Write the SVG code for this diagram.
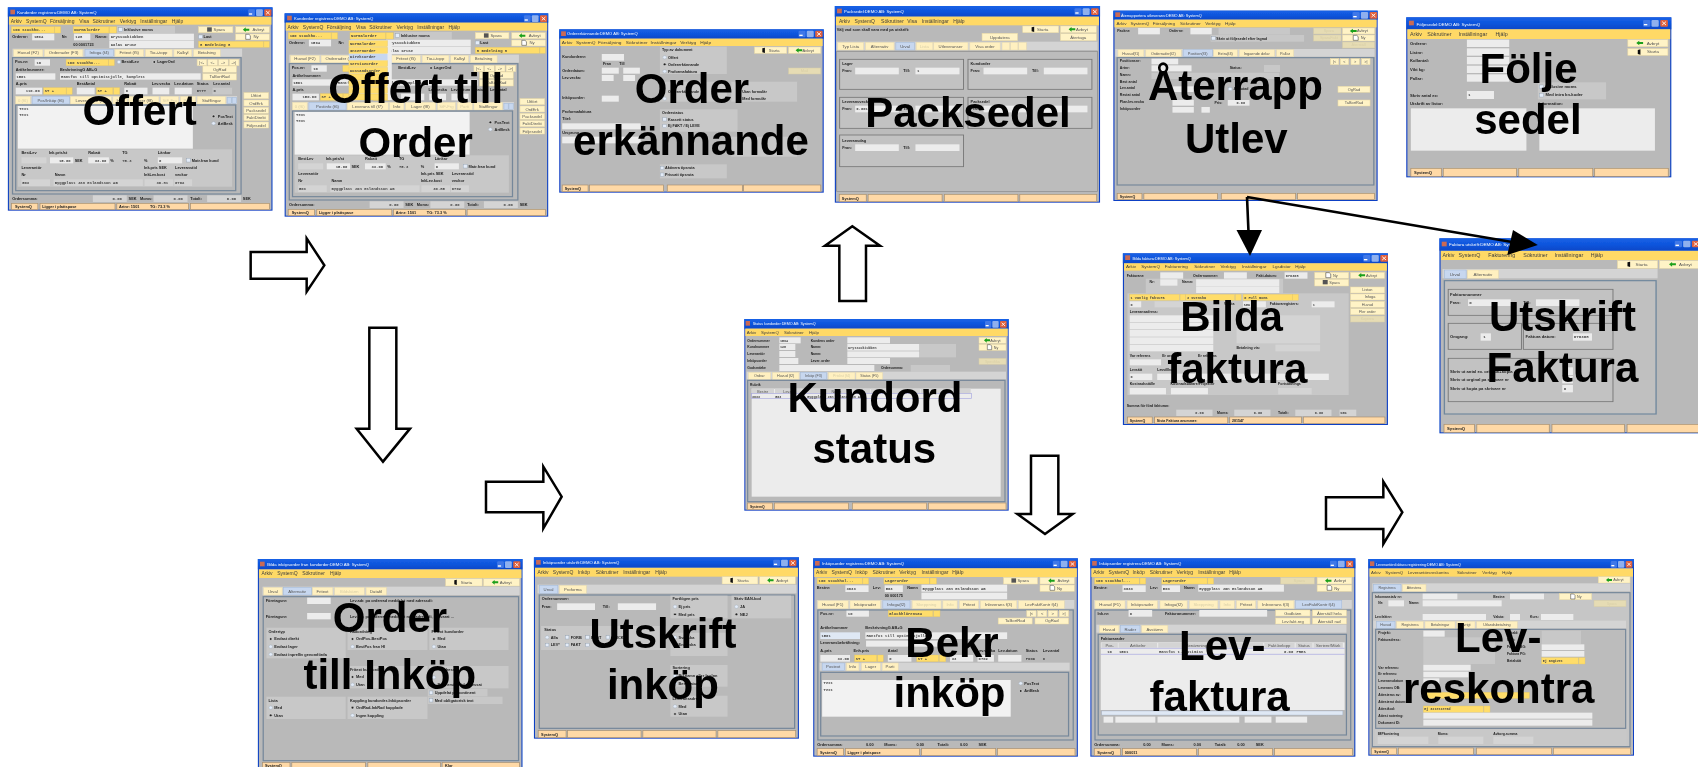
<svg xmlns="http://www.w3.org/2000/svg" width="1698" height="767" viewBox="0 0 1698 767">
<defs>
<linearGradient id="tg" x1="0" y1="0" x2="0" y2="1"><stop offset="0" stop-color="#1a62e6"/><stop offset=".5" stop-color="#0d55dd"/><stop offset="1" stop-color="#0a48c8"/></linearGradient>
<filter id="bl"><feGaussianBlur stdDeviation=".42"/></filter>
<g id="c"><rect width="19" height="20" rx="3" fill="#3f78e8"/><rect x="2" y="12" width="9" height="4" fill="#fff"/><rect x="22" width="19" height="20" rx="3" fill="#8fb0ee"/><rect x="45" width="20" height="20" rx="3" fill="#e0613c"/><path d="M50 5l10 10M60 5l-10 10" stroke="#fff" stroke-width="2.5"/></g>
<rect id="ic" width="13" height="14" fill="#c96a55"/>
<path id="gr" d="M0 7l8-7v4h10v6H8v4z" fill="#1aa01a"/>
<path id="dr" d="M0 2l7-2v16l-7-2z" fill="#111"/>
<path id="pg" d="M0 0h9l4 4v11H0z" fill="#fff" stroke="#333" stroke-width="1.5"/>
<rect id="dk" width="13" height="13" fill="#555"/>
</defs>
<style>
text{font-family:"Liberation Sans",Arial,sans-serif}
.nd{filter:url(#bl)}
.fr{fill:#0b3fc4}.bg{fill:#b9b9b9}.tb{fill:url(#tg)}.mb{fill:#ffd966}
.t{fill:#fff;font-size:.85em}
.m{fill:#3c3c3c}
.l{font-weight:700;font-size:.78em;fill:#222}
.v{font-family:"Liberation Mono",monospace;font-weight:700;font-size:.78em;fill:#444}
.b{text-anchor:middle;font-size:.85em;fill:#555}
.d{text-anchor:middle;font-size:.85em;fill:#d8cfa8}
.i{fill:#ececec}.p{fill:#c8c8c8}.q{fill:#d4d4d4}.w{fill:#f2f2f2}
.btn{fill:#fff3c6;stroke:#ead9a4;stroke-width:1.5}
.off{fill:#e6dcb4;stroke:#d5cca8;stroke-width:1.5}
.y{fill:#ffdd6a;stroke:#e6c860;stroke-width:1}
.s{fill:#ffd9a6;stroke:#a89070;stroke-width:2}
.tab{fill:#fff0c0;stroke:#e4d8b0;stroke-width:1.5}
.act{fill:#c7d7ef;stroke:#a0b8d8;stroke-width:1.5}
.box{fill:none;stroke:#75879a;stroke-width:3.5}
.gb{fill:#c2c2c2;stroke:#777;stroke-width:2.5}
.r{fill:#e4ecf8;stroke:#9ab;stroke-width:1}
.rs{fill:#222;stroke:#ddd;stroke-width:2}
.c{fill:#e4ecf8;stroke:#89a;stroke-width:1}
.big{font-size:42px;font-weight:700;text-anchor:middle;fill:#000}
.ar{fill:#fff;stroke:#000;stroke-width:7.5;stroke-linejoin:miter}
</style>
<rect width="1698" height="767" fill="#fff"/>

<g id="offert" class="nd"><g transform="scale(.35714,.33333)" font-size="14">
<rect class="fr" x="22" y="22" width="741" height="610"/><rect class="bg" x="25" y="28" width="735" height="601"/><rect class="tb" x="22" y="22" width="741" height="28"/><use href="#ic" x="29" y="29"/><text class="t" x="48" y="42">Kunderder registrera:DEMO AB: SystemQ</text><use href="#c" x="695" y="28"/>
<rect class="mb" x="25" y="50" width="735" height="24"/>
<text class="m" x="30" y="68">Arkiv</text><text class="m" x="73" y="68">SystemQ</text><text class="m" x="140" y="68">Försäljning</text><text class="m" x="222" y="68">Visa</text><text class="m" x="259" y="68">Sökrutiner</text><text class="m" x="335" y="68">Verktyg</text><text class="m" x="393" y="68">Inställningar</text><text class="m" x="481" y="68">Hjälp</text>
<rect class="y" x="32" y="80" width="120" height="19"/><rect class="y" x="153" y="80" width="17" height="19"/><text class="v" x="36" y="93">100  Stockho...</text>
<rect class="y" x="205" y="80" width="100" height="19"/><rect class="y" x="306" y="80" width="20" height="19"/><text class="v" x="208" y="93">Normalorder</text>
<rect class="p" x="328" y="78" width="162" height="22"/><rect class="c" x="332" y="83" width="11" height="11"/><text class="l" x="347" y="93">Inklusive moms</text>
<rect class="btn" x="556" y="80" width="96" height="18"/><use href="#dk" x="580" y="82"/><text class="b" x="614" y="93">Spara</text><rect class="btn" x="660" y="80" width="94" height="18"/><use href="#gr" x="680" y="82"/><text class="b" x="724" y="93">Avbryt</text><rect class="btn" x="660" y="102" width="94" height="18"/><use href="#pg" x="688" y="103"/><text class="b" x="717" y="115">Ny</text>
<text class="l" x="34" y="115">Ordernr:</text><rect class="i" x="90" y="101" width="62" height="20"/><text class="v" x="95" y="115">1594</text><text class="l" x="173" y="115">Nr:</text><rect class="i" x="207" y="101" width="46" height="20"/><text class="v" x="211" y="115">128</text><text class="l" x="267" y="115">Namn:</text><rect class="i" x="306" y="101" width="237" height="20"/><text class="v" x="310" y="115">Kryssockiubben</text><rect class="i" x="306" y="122" width="237" height="22"/><text class="v" x="310" y="137" fill="#9ac">Kalas Kruse</text><text class="l" x="205" y="137">00 0001723</text>
<rect class="c" x="556" y="105" width="11" height="11"/><text class="l" x="570" y="115">Låst</text><rect class="y" x="556" y="124" width="182" height="18"/><rect class="y" x="739" y="124" width="15" height="18"/><text class="v" x="560" y="137">8  Bedelning 8</text>
<rect class="q" x="35" y="146" width="643" height="24"/>
<rect class="tab" x="38" y="148" width="82" height="22"/><text class="b" x="79" y="163">Huvud (F2)</text><rect class="tab" x="124" y="148" width="108" height="22"/><text class="b" x="178" y="163">Orderrader (F3)</text><rect class="act" x="238" y="148" width="80" height="22"/><text class="b" x="278" y="163">Infoga (f4)</text><rect class="tab" x="322" y="148" width="80" height="22"/><text class="b" x="362" y="163">Fritext (f5)</text><rect class="tab" x="407" y="148" width="75" height="22"/><text class="b" x="444" y="163">Tio-i-topp</text><rect class="tab" x="487" y="148" width="50" height="22"/><text class="b" x="512" y="163">Kalkyl</text><rect class="tab" x="542" y="148" width="75" height="22"/><text class="b" x="579" y="163">Betalning</text>
<rect class="box" x="35" y="173" width="640" height="409"/>
<text class="l" x="42" y="190">Pos.nr:</text><rect class="i" x="97" y="178" width="43" height="19"/><text class="v" x="102" y="192">10</text><rect class="y" x="185" y="178" width="118" height="19"/><rect class="y" x="304" y="178" width="16" height="19"/><text class="v" x="189" y="192">100  Stockho...</text><circle class="r" cx="333" cy="186" r="5"/><text class="l" x="340" y="190">BestdLev</text><circle class="rs" cx="432" cy="186" r="4"/><text class="l" x="440" y="190">LagerOrd</text>
<rect class="btn" x="552" y="178" width="27" height="19"/><text class="b" x="565" y="192">|&lt;-</text><rect class="btn" x="582" y="178" width="27" height="19"/><text class="b" x="595" y="192">&lt;-</text><rect class="btn" x="612" y="178" width="27" height="19"/><text class="b" x="625" y="192">-&gt;</text><rect class="btn" x="642" y="178" width="27" height="19"/><text class="b" x="655" y="192">-&gt;|</text>
<text class="l" x="44" y="212">Artikelnummer:</text><text class="l" x="168" y="212">BeskrivningG AB+G</text><rect class="i" x="44" y="220" width="111" height="19"/><text class="v" x="46" y="234">1501</text><rect class="i" x="168" y="220" width="394" height="19"/><text class="v" x="171" y="234">Rantfot till optimistjolle, komplett</text>
<rect class="btn" x="568" y="198" width="94" height="19"/><text class="b" x="615" y="212">OgRad</text><rect class="btn" x="568" y="221" width="94" height="19"/><text class="b" x="615" y="235">TaBortRad</text>
<text class="l" x="44" y="254">A-pris</text><text class="l" x="215" y="254">BestAntal</text><text class="l" x="348" y="254">Rabatt</text><text class="l" x="425" y="254">Lev.vecka</text><text class="l" x="488" y="254">Lev.datum</text><text class="l" x="551" y="254">Status</text><text class="l" x="597" y="254">Lev.antal</text>
<rect class="i" x="44" y="263" width="74" height="20"/><text class="v" x="72" y="277">110.00</text><rect class="y" x="122" y="263" width="63" height="20"/><rect class="y" x="186" y="263" width="16" height="20"/><text class="v" x="125" y="277">ST +</text><rect class="i" x="215" y="263" width="50" height="20"/><rect class="y" x="270" y="263" width="46" height="20"/><rect class="y" x="318" y="263" width="17" height="20"/><text class="v" x="273" y="277">ST +</text><rect class="i" x="348" y="263" width="65" height="20"/><text class="v" x="352" y="277">0</text><rect class="i" x="427" y="263" width="47" height="20"/><rect class="i" x="489" y="263" width="48" height="20"/><text class="v" x="551" y="277">BYTT</text><rect class="p" x="595" y="263" width="55" height="20"/><text class="v" x="598" y="277">0</text>
<rect class="q" x="44" y="288" width="620" height="24"/><rect class="tab" x="44" y="289" width="41" height="23"/><text class="d" x="64" y="305">0 (f6)</text><rect class="act" x="90" y="289" width="104" height="23"/><text class="b" x="142" y="305">Pos/Inköp (f6)</text><rect class="tab" x="197" y="289" width="115" height="23"/><text class="b" x="254" y="305">Leverans till (f7)</text><rect class="tab" x="316" y="289" width="40" height="23"/><text class="b" x="336" y="305">Info</text><rect class="tab" x="360" y="289" width="85" height="23"/><text class="b" x="402" y="305">Lager (f8)</text><rect class="tab" x="450" y="289" width="50" height="23"/><text class="d" x="475" y="305">StF-Frg</text><rect class="tab" x="505" y="289" width="43" height="23"/><text class="d" x="526" y="305">Parti</text><rect class="tab" x="552" y="289" width="80" height="23"/><text class="b" x="592" y="305">Stafflingar</text><rect class="act" x="636" y="292" width="12" height="18"/><rect class="act" x="650" y="292" width="12" height="18"/>
<rect class="box" x="44" y="315" width="616" height="257"/><rect class="w" x="50" y="318" width="490" height="128"/><text class="v" x="54" y="330">Text</text><text class="v" x="54" y="348">Text</text><circle class="rs" cx="598" cy="349" r="4"/><text class="l" x="610" y="353">PosText</text><circle class="r" cx="598" cy="370" r="5"/><text class="l" x="610" y="374">ArtBesk</text>
<rect class="p" x="50" y="448" width="600" height="112"/>
<text class="l" x="60" y="463">BestLev</text><text class="l" x="137" y="463">Ink.pris/st</text><text class="l" x="247" y="463">Rabatt</text><text class="l" x="342" y="463">TG</text><text class="l" x="442" y="463">Länkar</text>
<rect class="q" x="60" y="472" width="70" height="18"/><rect class="i" x="140" y="472" width="65" height="18"/><text class="v" x="165" y="485">15.00</text><text class="l" x="209" y="485">SEK</text><rect class="i" x="247" y="472" width="58" height="18"/><text class="v" x="265" y="485">33.00</text><text class="l" x="309" y="485">%</text><text class="v" x="342" y="485">75.3</text><text class="l" x="403" y="485">%</text><rect class="i" x="442" y="472" width="68" height="18"/><text class="v" x="445" y="485">0</text><rect class="c" x="522" y="475" width="11" height="11"/><text class="l" x="537" y="485">Matr.från kund</text>
<text class="l" x="60" y="508">Leverantör</text><text class="l" x="403" y="508">Ink.pris SEK</text><text class="l" x="490" y="508">Leveranstid</text><text class="l" x="60" y="528">Nr</text><text class="l" x="153" y="528">Namn</text><text class="l" x="403" y="528">InkLev.kost</text><text class="l" x="490" y="528">veckor</text>
<rect class="q" x="60" y="538" width="80" height="20"/><text class="v" x="62" y="552">503</text><rect class="q" x="150" y="538" width="250" height="20"/><text class="v" x="153" y="552">Byggplast Jan Eslandsson AB</text><rect class="q" x="405" y="538" width="80" height="20"/><text class="v" x="438" y="552">30.81</text><rect class="q" x="488" y="538" width="50" height="20"/><text class="v" x="490" y="552">0702</text>
<rect class="btn" x="683" y="278" width="69" height="18"/><text class="b" x="717" y="292">Utfört</text><rect class="btn" x="683" y="300" width="69" height="18"/><text class="b" x="717" y="314">OrdErk</text><rect class="btn" x="683" y="322" width="69" height="18"/><text class="b" x="717" y="336">Packsedel</text><rect class="btn" x="683" y="344" width="69" height="18"/><text class="b" x="717" y="358">FaktDirekt</text><rect class="btn" x="683" y="366" width="69" height="18"/><text class="b" x="717" y="380">Följesedel</text>
<text class="l" x="34" y="600">Ordersumma:</text><rect class="q" x="260" y="586" width="95" height="20"/><text class="v" x="315" y="600">0.00</text><text class="l" x="360" y="600">SEK</text><text class="l" x="392" y="600">Moms:</text><rect class="q" x="430" y="586" width="95" height="20"/><text class="v" x="486" y="600">0.00</text><text class="l" x="533" y="600">Totalt:</text><rect class="q" x="580" y="586" width="95" height="20"/><text class="v" x="635" y="600">0.00</text><text class="l" x="680" y="600">SEK</text>
<rect class="s" x="32" y="610" width="74" height="19"/><text class="l" x="42" y="624">SystemQ</text><rect class="s" x="112" y="610" width="210" height="19"/><text class="l" x="118" y="624">Ligger i plattspåse</text><rect class="s" x="327" y="610" width="201" height="19"/><text class="l" x="333" y="624">Artnr: 1501</text><text class="l" x="420" y="624">TG: 73.3 %</text><rect class="s" x="533" y="610" width="222" height="19"/>
</g><text class="big" x="139.6" y="125">Offert</text></g>

<g id="offert-till-order" class="nd"><g transform="scale(.35714,.33333)" font-size="14"><g transform="translate(775,18)">
<rect class="fr" x="22" y="22" width="738" height="610"/><rect class="bg" x="25" y="28" width="732" height="601"/><rect class="tb" x="22" y="22" width="738" height="28"/><use href="#ic" x="29" y="29"/><text class="t" x="48" y="42">Kunderder registrera:DEMO AB: SystemQ</text><use href="#c" x="692" y="28"/>
<rect class="mb" x="25" y="50" width="732" height="24"/>
<text class="m" x="30" y="68">Arkiv</text><text class="m" x="73" y="68">SystemQ</text><text class="m" x="140" y="68">Försäljning</text><text class="m" x="222" y="68">Visa</text><text class="m" x="259" y="68">Sökrutiner</text><text class="m" x="335" y="68">Verktyg</text><text class="m" x="393" y="68">Inställningar</text><text class="m" x="481" y="68">Hjälp</text>
<rect class="y" x="32" y="80" width="120" height="19"/><rect class="y" x="153" y="80" width="17" height="19"/><text class="v" x="36" y="93">100  Stockho...</text>
<rect class="y" x="205" y="80" width="100" height="19"/><rect class="y" x="306" y="80" width="20" height="19"/><text class="v" x="208" y="93">Normalorder</text>
<rect class="p" x="328" y="78" width="162" height="22"/><rect class="c" x="332" y="83" width="11" height="11"/><text class="l" x="347" y="93">Inklusive moms</text>
<rect class="btn" x="556" y="80" width="94" height="18"/><use href="#dk" x="580" y="82"/><text class="b" x="614" y="93">Spara</text><rect class="btn" x="658" y="80" width="94" height="18"/><use href="#gr" x="678" y="82"/><text class="b" x="722" y="93">Avbryt</text><rect class="btn" x="658" y="102" width="94" height="18"/><use href="#pg" x="686" y="103"/><text class="b" x="715" y="115">Ny</text>
<text class="l" x="34" y="115">Ordernr:</text><rect class="i" x="90" y="101" width="62" height="20"/><text class="v" x="95" y="115">1594</text><text class="l" x="173" y="115">Nr:</text><rect class="i" x="207" y="101" width="46" height="20"/><text class="v" x="211" y="115">128</text><text class="l" x="267" y="115">Namn:</text><rect class="i" x="306" y="101" width="237" height="20"/><text class="v" x="310" y="115">Kryssockiubben</text><rect class="i" x="306" y="122" width="237" height="22"/><text class="v" x="310" y="137">Kalas Kruse</text>
<rect class="c" x="556" y="105" width="11" height="11"/><text class="l" x="570" y="115">Låst</text><rect class="y" x="556" y="124" width="180" height="18"/><rect class="y" x="737" y="124" width="15" height="18"/><text class="v" x="560" y="137">8  Bedelning 8</text>
<rect class="q" x="35" y="146" width="643" height="24"/>
<rect class="tab" x="38" y="148" width="82" height="22"/><text class="b" x="79" y="163">Huvud (F2)</text><rect class="tab" x="124" y="148" width="108" height="22"/><text class="b" x="178" y="163">Orderrader (F3)</text><rect class="act" x="238" y="148" width="80" height="22"/><text class="b" x="278" y="163">Infoga (f4)</text><rect class="tab" x="322" y="148" width="80" height="22"/><text class="b" x="362" y="163">Fritext (f5)</text><rect class="tab" x="407" y="148" width="75" height="22"/><text class="b" x="444" y="163">Tio-i-topp</text><rect class="tab" x="487" y="148" width="50" height="22"/><text class="b" x="512" y="163">Kalkyl</text><rect class="tab" x="542" y="148" width="75" height="22"/><text class="b" x="579" y="163">Betalning</text>
<rect class="box" x="35" y="173" width="640" height="409"/>
<text class="l" x="42" y="190">Pos.nr:</text><rect class="i" x="97" y="178" width="43" height="19"/><text class="v" x="102" y="192">10</text><rect class="y" x="185" y="178" width="118" height="19"/><text class="l" x="340" y="190">BestdLev</text><circle class="rs" cx="432" cy="186" r="4"/><text class="l" x="440" y="190">LagerOrd</text>
<rect class="btn" x="552" y="178" width="27" height="19"/><text class="b" x="565" y="192">|&lt;-</text><rect class="btn" x="582" y="178" width="27" height="19"/><text class="b" x="595" y="192">&lt;-</text><rect class="btn" x="612" y="178" width="27" height="19"/><text class="b" x="625" y="192">-&gt;</text><rect class="btn" x="642" y="178" width="27" height="19"/><text class="b" x="655" y="192">-&gt;|</text>
<text class="l" x="44" y="212">Artikelnummer:</text><rect class="i" x="44" y="220" width="111" height="19"/><text class="v" x="46" y="234">1501</text><rect class="i" x="168" y="220" width="394" height="19"/><text class="v" x="171" y="234">Rantfot till optimistjolle, komplett</text>
<rect class="btn" x="568" y="198" width="94" height="19"/><text class="b" x="615" y="212">OgRad</text><rect class="btn" x="568" y="221" width="94" height="19"/><text class="b" x="615" y="235">TaBortRad</text>
<text class="l" x="44" y="254">A-pris</text><text class="l" x="425" y="254">Lev.vecka</text><text class="l" x="488" y="254">Lev.datum</text><text class="l" x="551" y="254">Status</text><text class="l" x="597" y="254">Lev.antal</text>
<rect class="i" x="44" y="263" width="74" height="20"/><text class="v" x="72" y="277">150.00</text><rect class="y" x="122" y="263" width="63" height="20"/><rect class="y" x="186" y="263" width="16" height="20"/><text class="v" x="125" y="277">ST +</text><rect class="i" x="215" y="263" width="50" height="20"/><rect class="y" x="270" y="263" width="46" height="20"/><rect class="i" x="348" y="263" width="65" height="20"/><rect class="i" x="427" y="263" width="47" height="20"/><rect class="i" x="489" y="263" width="48" height="20"/>
<rect class="q" x="44" y="288" width="620" height="24"/><rect class="tab" x="44" y="289" width="41" height="23"/><text class="d" x="64" y="305">0 (f6)</text><rect class="act" x="90" y="289" width="104" height="23"/><text class="b" x="142" y="305">Postinfo (f6)</text><rect class="tab" x="197" y="289" width="115" height="23"/><text class="b" x="254" y="305">Leverans till (f7)</text><rect class="tab" x="316" y="289" width="40" height="23"/><text class="b" x="336" y="305">Info</text><rect class="tab" x="360" y="289" width="85" height="23"/><text class="b" x="402" y="305">Lager (f8)</text><rect class="tab" x="450" y="289" width="50" height="23"/><text class="d" x="475" y="305">StF-Frg</text><rect class="tab" x="505" y="289" width="43" height="23"/><text class="d" x="526" y="305">Parti</text><rect class="tab" x="552" y="289" width="80" height="23"/><text class="b" x="592" y="305">Stafflingar</text><rect class="act" x="636" y="292" width="12" height="18"/><rect class="act" x="650" y="292" width="12" height="18"/>
<rect class="box" x="44" y="315" width="616" height="257"/><rect class="w" x="50" y="318" width="490" height="128"/><text class="v" x="54" y="330">Text</text><text class="v" x="54" y="348">Text</text><circle class="rs" cx="598" cy="349" r="4"/><text class="l" x="610" y="353">PosText</text><circle class="r" cx="598" cy="370" r="5"/><text class="l" x="610" y="374">ArtBesk</text>
<rect class="p" x="50" y="448" width="600" height="112"/>
<text class="l" x="60" y="463">BestLev</text><text class="l" x="137" y="463">Ink.pris/st</text><text class="l" x="247" y="463">Rabatt</text><text class="l" x="342" y="463">TG</text><text class="l" x="442" y="463">Länkar</text>
<rect class="q" x="60" y="472" width="70" height="18"/><rect class="i" x="140" y="472" width="65" height="18"/><text class="v" x="165" y="485">15.00</text><text class="l" x="209" y="485">SEK</text><rect class="i" x="247" y="472" width="58" height="18"/><text class="v" x="265" y="485">33.00</text><text class="l" x="309" y="485">%</text><text class="v" x="342" y="485">75.3</text><text class="l" x="403" y="485">%</text><rect class="i" x="442" y="472" width="68" height="18"/><text class="v" x="445" y="485">0</text><rect class="c" x="522" y="475" width="11" height="11"/><text class="l" x="537" y="485">Matr.från kund</text>
<text class="l" x="60" y="508">Leverantör</text><text class="l" x="403" y="508">Ink.pris SEK</text><text class="l" x="490" y="508">Leveranstid</text><text class="l" x="60" y="528">Nr</text><text class="l" x="153" y="528">Namn</text><text class="l" x="403" y="528">InkLev.kost</text><text class="l" x="490" y="528">veckor</text>
<rect class="q" x="60" y="538" width="80" height="20"/><text class="v" x="62" y="552">503</text><rect class="q" x="150" y="538" width="250" height="20"/><text class="v" x="153" y="552">Byggplast Jan Eslandsson AB</text><rect class="q" x="405" y="538" width="80" height="20"/><text class="v" x="438" y="552">30.85</text><rect class="q" x="488" y="538" width="50" height="20"/><text class="v" x="490" y="552">0702</text>
<rect class="btn" x="681" y="278" width="69" height="18"/><text class="b" x="715" y="292">Utfört</text><rect class="btn" x="681" y="300" width="69" height="18"/><text class="b" x="715" y="314">OrdErk</text><rect class="btn" x="681" y="322" width="69" height="18"/><text class="b" x="715" y="336">Packsedel</text><rect class="btn" x="681" y="344" width="69" height="18"/><text class="b" x="715" y="358">FaktDirekt</text><rect class="btn" x="681" y="366" width="69" height="18"/><text class="b" x="715" y="380">Följesedel</text>
<text class="l" x="34" y="600">Ordersumma:</text><rect class="q" x="260" y="586" width="95" height="20"/><text class="v" x="315" y="600">0.00</text><text class="l" x="360" y="600">SEK</text><text class="l" x="392" y="600">Moms:</text><rect class="q" x="430" y="586" width="95" height="20"/><text class="v" x="486" y="600">0.00</text><text class="l" x="533" y="600">Totalt:</text><rect class="q" x="580" y="586" width="95" height="20"/><text class="v" x="635" y="600">0.00</text><text class="l" x="680" y="600">SEK</text>
<rect class="s" x="32" y="610" width="74" height="19"/><text class="l" x="42" y="624">SystemQ</text><rect class="s" x="112" y="610" width="210" height="19"/><text class="l" x="118" y="624">Ligger i plattspåse</text><rect class="s" x="327" y="610" width="201" height="19"/><text class="l" x="333" y="624">Artnr: 1501</text><text class="l" x="420" y="624">TG: 73.3 %</text><rect class="s" x="533" y="610" width="219" height="19"/>
<rect x="202" y="102" width="120" height="180" fill="#ececec"/><rect class="y" x="202" y="104" width="108" height="18"/><text class="v" x="205" y="117">Normalorder</text><rect class="y" x="202" y="124" width="108" height="18"/><text class="v" x="205" y="137">Internorder</text><rect x="202" y="144" width="108" height="18" fill="#c7d7ef"/><text class="v" x="205" y="157">Direktorder</text><rect class="y" x="202" y="164" width="108" height="18"/><text class="v" x="205" y="177">Serviceorder</text><rect class="y" x="202" y="184" width="108" height="18"/><text class="v" x="205" y="197">Kostandsorder</text><rect class="y" x="202" y="204" width="108" height="18"/><rect class="y" x="202" y="224" width="108" height="18"/><rect class="y" x="202" y="244" width="108" height="18"/><rect class="y" x="202" y="264" width="108" height="18"/>
</g></g><text class="big" x="415.7" y="102.7">Offert till</text><text class="big" x="415.6" y="156.7">Order</text></g>

<g id="order-erkannande" class="nd"><g transform="translate(550,0) scale(.3699,.33333)" font-size="13">
<rect class="fr" x="25" y="88" width="715" height="490"/><rect class="bg" x="28" y="94" width="709" height="481"/><rect class="tb" x="25" y="88" width="715" height="28"/><use href="#ic" x="30" y="94"/><text class="t" x="46" y="106">Ordererkännande:DEMO AB: SystemQ</text><use href="#c" x="672" y="92"/>
<rect class="mb" x="28" y="116" width="709" height="22"/>
<text class="m" x="32" y="132">Arkiv</text><text class="m" x="70" y="132">SystemQ</text><text class="m" x="130" y="132">Försäljning</text><text class="m" x="205" y="132">Sökrutiner</text><text class="m" x="272" y="132">Inställningar</text><text class="m" x="352" y="132">Verktyg</text><text class="m" x="406" y="132">Hjälp</text>
<text class="l" x="33" y="175">Kundordernr:</text><rect class="i" x="140" y="162" width="60" height="20"/><text class="l" x="143" y="195">Från</text><text class="l" x="187" y="195">Till</text><text class="l" x="33" y="215">Orderdatum:</text><rect class="i" x="140" y="203" width="46" height="18"/><rect class="i" x="198" y="203" width="45" height="18"/><text class="l" x="33" y="236">Lev.vecka:</text><rect class="i" x="140" y="225" width="32" height="18"/><rect class="i" x="198" y="225" width="32" height="18"/><text class="l" x="33" y="298">Inköpsorder:</text><rect class="i" x="140" y="287" width="46" height="18"/><text class="l" x="33" y="340">Proformafaktura</text><text class="l" x="33" y="361">Titel:</text><rect class="i" x="33" y="370" width="212" height="18"/><text class="l" x="33" y="402">Ursprung</text><rect class="i" x="33" y="410" width="212" height="20"/>
<rect class="p" x="297" y="140" width="181" height="82"/><text class="l" x="303" y="153">Typ av dokument</text><circle class="r" cx="310" cy="172" r="5"/><text class="l" x="319" y="176">Offert</text><circle class="rs" cx="310" cy="193" r="4"/><text class="l" x="319" y="197">Ordererkännande</text><circle class="r" cx="310" cy="214" r="5"/><text class="l" x="319" y="218">Proformafaktura</text>
<rect class="btn" x="553" y="141" width="87" height="19"/><use href="#dr" x="574" y="143"/><text class="b" x="606" y="155">Starta</text><rect class="btn" x="645" y="141" width="87" height="19"/><use href="#gr" x="664" y="144"/><text class="b" x="698" y="155">Avbryt</text><rect class="off" x="645" y="204" width="87" height="18"/><text class="d" x="688" y="217">Mail</text>
<rect class="p" x="297" y="245" width="181" height="60"/><rect class="p" x="490" y="245" width="178" height="60"/><text class="l" x="520" y="280">Utan formulär</text><text class="l" x="520" y="301">Med formulär</text><circle class="r" cx="310" cy="296" r="5"/><text class="l" x="319" y="280">Ordererkännande</text>
<rect class="p" x="297" y="328" width="210" height="67"/><text class="l" x="303" y="341">Orderstatus</text><rect class="c" x="305" y="353" width="10" height="10"/><text class="l" x="319" y="362">Kassett status</text><rect class="c" x="305" y="373" width="10" height="10"/><text class="l" x="319" y="382">Ej FAKT / Ej LEVE</text>
<rect class="p" x="490" y="410" width="178" height="60"/>
<rect class="p" x="297" y="493" width="181" height="42"/><rect class="c" x="298" y="499" width="10" height="10"/><text class="l" x="311" y="508">Aktivera tipsruta</text><rect class="c" x="298" y="519" width="10" height="10"/><text class="l" x="311" y="528">Prissatt tipsruta</text>
<rect class="s" x="33" y="555" width="70" height="20"/><text class="l" x="40" y="569">SystemQ</text><rect class="s" x="107" y="555" width="200" height="20"/><rect class="s" x="317" y="555" width="203" height="20"/><rect class="s" x="523" y="555" width="209" height="20"/>
</g><text class="big" x="692" y="103.3">Order</text><text class="big" x="691" y="155">erkännande</text></g>

<g id="packsedel" class="nd"><g transform="translate(550,0) scale(.3699,.33333)" font-size="13.5">
<rect class="fr" x="770" y="18" width="717" height="590"/><rect class="bg" x="773" y="24" width="711" height="581"/><rect class="tb" x="770" y="18" width="717" height="32"/><use href="#ic" x="776" y="26"/><text class="t" x="795" y="40">Packsedel:DEMO AB: SystemQ</text><use href="#c" x="1418" y="25"/>
<rect class="mb" x="773" y="50" width="711" height="26"/>
<text class="m" x="781" y="68">Arkiv</text><text class="m" x="823" y="68">SystemQ</text><text class="m" x="895" y="68">Sökrutiner</text><text class="m" x="966" y="68">Visa</text><text class="m" x="1005" y="68">Inställningar</text><text class="m" x="1090" y="68">Hjälp</text>
<text class="l" x="775" y="92">Välj vad som skall vara med på utskrift:</text>
<rect class="btn" x="1278" y="78" width="97" height="20"/><use href="#dr" x="1302" y="80"/><text class="b" x="1332" y="92">Starta</text><rect class="btn" x="1380" y="78" width="97" height="20"/><use href="#gr" x="1402" y="81"/><text class="b" x="1438" y="92">Avbryt</text><rect class="btn" x="1168" y="100" width="96" height="22"/><text class="b" x="1216" y="116">Uppdatera</text><rect class="btn" x="1380" y="101" width="97" height="21"/><text class="b" x="1428" y="116">Återtaga</text>
<rect class="q" x="775" y="125" width="705" height="25"/>
<rect class="tab" x="778" y="127" width="70" height="23"/><text class="b" x="813" y="143">Typ Lista</text><rect class="tab" x="853" y="127" width="77" height="23"/><text class="b" x="891" y="143">Alternativ</text><rect class="act" x="935" y="127" width="50" height="23"/><text class="b" x="960" y="143">Urval</text><rect class="tab" x="990" y="127" width="45" height="23"/><text class="d" x="1012" y="143">Lista</text><rect class="tab" x="1037" y="127" width="93" height="23"/><text class="b" x="1083" y="143">Utleveranser</text><rect class="tab" x="1135" y="127" width="82" height="23"/><text class="b" x="1176" y="143">Visa order</text><rect class="tab" x="1222" y="127" width="21" height="23"/><rect class="tab" x="1245" y="127" width="20" height="23"/><rect class="tab" x="1267" y="127" width="21" height="23"/>
<rect x="775" y="155" width="705" height="420" fill="#bcbcbc" stroke="#8a8a8a" stroke-width="2"/>
<rect class="gb" x="783" y="178" width="335" height="90"/><text class="l" x="790" y="194">Lager</text><text class="l" x="790" y="216">Från:</text><rect class="i" x="825" y="203" width="118" height="20"/><text class="l" x="955" y="216">Till:</text><rect class="i" x="988" y="203" width="119" height="20"/><text class="v" x="992" y="217">1</text>
<rect class="gb" x="1130" y="178" width="335" height="90"/><text class="l" x="1137" y="194">Kundorder</text><text class="l" x="1137" y="216">Från:</text><rect class="i" x="1172" y="203" width="118" height="20"/><text class="l" x="1303" y="216">Till:</text><rect class="i" x="1335" y="203" width="118" height="20"/>
<rect class="gb" x="783" y="292" width="335" height="93"/><text class="l" x="790" y="308">Leveransvecka</text><text class="l" x="790" y="330">Från:</text><rect class="i" x="825" y="317" width="118" height="20"/><text class="v" x="828" y="331">9.001</text><text class="l" x="955" y="330">Till:</text><rect class="i" x="988" y="317" width="119" height="20"/>
<rect class="gb" x="1130" y="292" width="335" height="93"/><text class="l" x="1137" y="308">Packsedel</text><text class="l" x="1137" y="330">Från:</text><rect class="i" x="1172" y="317" width="118" height="20"/><rect class="i" x="1335" y="317" width="118" height="20"/>
<rect class="gb" x="783" y="405" width="335" height="95"/><text class="l" x="790" y="425">Leveransdag</text><text class="l" x="790" y="447">Från:</text><rect class="i" x="825" y="433" width="118" height="20"/><text class="l" x="955" y="447">Till:</text><rect class="i" x="988" y="433" width="119" height="20"/>
<rect class="s" x="782" y="583" width="73" height="22"/><text class="l" x="789" y="599">SystemQ</text><rect class="s" x="860" y="583" width="200" height="22"/><rect class="s" x="1066" y="583" width="199" height="22"/><rect class="s" x="1270" y="583" width="208" height="22"/>
</g><text class="big" x="968" y="126.7">Packsedel</text></g>

<g id="aterrapp-utlev" class="nd"><g transform="translate(1100,0) scale(.38139,.33333)" font-size="12">
<rect class="fr" x="35" y="32" width="693" height="571"/><rect class="bg" x="38" y="38" width="687" height="562"/><rect class="tb" x="35" y="32" width="693" height="27"/><use href="#ic" x="40" y="37"/><text class="t" x="55" y="50">Återrapportera utleverans:DEMO AB: SystemQ</text><use href="#c" x="662" y="36"/>
<rect class="mb" x="38" y="59" width="687" height="23"/>
<text class="m" x="43" y="75">Arkiv</text><text class="m" x="80" y="75">SystemQ</text><text class="m" x="138" y="75">Försäljning</text><text class="m" x="210" y="75">Sökrutiner</text><text class="m" x="276" y="75">Verktyg</text><text class="m" x="328" y="75">Hjälp</text>
<text class="l" x="45" y="96">Packnr:</text><rect class="i" x="100" y="84" width="57" height="19"/><text class="l" x="181" y="96">Ordernr:</text><rect class="i" x="237" y="84" width="56" height="19"/><rect class="p" x="311" y="84" width="187" height="20"/>
<rect class="off" x="560" y="84" width="72" height="18"/><text class="d" x="600" y="97">Spara</text><rect class="btn" x="636" y="84" width="84" height="18"/><use href="#gr" x="655" y="86"/><text class="b" x="688" y="97">Avbryt</text><rect class="off" x="560" y="105" width="72" height="18"/><text class="d" x="600" y="118">SparaFakt</text><rect class="btn" x="636" y="105" width="84" height="18"/><use href="#pg" x="664" y="106"/><text class="b" x="690" y="118">Ny</text><rect class="off" x="636" y="126" width="84" height="18"/><text class="d" x="678" y="139">Återställ</text>
<rect class="p" x="290" y="105" width="245" height="20"/><rect class="c" x="292" y="110" width="10" height="10"/><text class="l" x="305" y="119">Skriv ut följesedel efter lagrad</text>
<rect class="q" x="40" y="147" width="680" height="23"/>
<rect class="tab" x="47" y="149" width="68" height="21"/><text class="b" x="81" y="164">Huvud(f1)</text><rect class="tab" x="120" y="149" width="93" height="21"/><text class="b" x="166" y="164">Orderrader(f2)</text><rect class="act" x="218" y="149" width="77" height="21"/><text class="b" x="256" y="164">Position(f3)</text><rect class="tab" x="298" y="149" width="62" height="21"/><text class="b" x="329" y="164">Extra(f4)</text><rect class="tab" x="365" y="149" width="93" height="21"/><text class="b" x="411" y="164">Ingående delar</text><rect class="tab" x="463" y="149" width="45" height="21"/><text class="b" x="485" y="164">Pallar</text>
<rect class="box" x="45" y="173" width="673" height="382"/>
<text class="l" x="52" y="187">Positionsnr:</text><rect class="i" x="135" y="176" width="70" height="17"/><text class="l" x="52" y="207">Artnr:</text><rect class="i" x="135" y="196" width="105" height="18"/><text class="l" x="340" y="207">Status:</text><rect class="p" x="430" y="195" width="42" height="21"/><text class="l" x="52" y="228">Namn:</text><rect class="p" x="135" y="218" width="335" height="19"/><text class="l" x="52" y="248">Best antal</text><text class="l" x="52" y="268">Lev.antal</text><rect class="i" x="190" y="259" width="55" height="17"/><rect class="c" x="336" y="262" width="10" height="10"/><text class="l" x="350" y="271">Avslutad</text><text class="l" x="52" y="288">Restat antal</text><text class="l" x="52" y="310">Plan.lev.vecka</text><rect class="i" x="190" y="300" width="56" height="17"/><text class="l" x="300" y="312">Pris:</text><rect class="i" x="335" y="300" width="57" height="17"/><text class="v" x="358" y="313">0.00</text><text class="l" x="52" y="330">Inköpsorder</text><rect class="i" x="190" y="321" width="56" height="17"/><rect class="i" x="266" y="321" width="22" height="17"/>
<rect class="btn" x="604" y="176" width="22" height="18"/><text class="b" x="615" y="189">|&lt;</text><rect class="btn" x="630" y="176" width="22" height="18"/><text class="b" x="641" y="189">&lt;</text><rect class="btn" x="658" y="176" width="22" height="18"/><text class="b" x="669" y="189">&gt;</text><rect class="btn" x="686" y="176" width="22" height="18"/><text class="b" x="697" y="189">&gt;|</text>
<rect class="btn" x="624" y="259" width="84" height="18"/><text class="b" x="666" y="272">OgRad</text><rect class="btn" x="624" y="300" width="84" height="18"/><text class="b" x="666" y="313">TaBortRad</text>
<rect class="s" x="45" y="580" width="65" height="19"/><text class="l" x="52" y="594">SystemQ</text><rect class="s" x="115" y="580" width="193" height="19"/><rect class="s" x="318" y="580" width="195" height="19"/><rect class="s" x="518" y="580" width="202" height="19"/>
</g><text class="big" x="1235.4" y="100">Återrapp</text><text class="big" x="1236.3" y="152.7">Utlev</text></g>

<g id="foljesedel" class="nd"><g transform="translate(1100,0) scale(.38139,.33333)" font-size="14">
<rect class="fr" x="803" y="52" width="695" height="480"/><rect class="bg" x="806" y="58" width="689" height="471"/><rect class="tb" x="803" y="52" width="695" height="36"/><use href="#ic" x="810" y="62"/><text class="t" x="830" y="77">Följesedel:DEMO AB: SystemQ</text><use href="#c" x="1424" y="60"/>
<rect class="mb" x="806" y="88" width="689" height="29"/>
<text class="m" x="813" y="107">Arkiv</text><text class="m" x="858" y="107">Sökrutiner</text><text class="m" x="940" y="107">Inställningar</text><text class="m" x="1037" y="107">Hjälp</text>
<text class="l" x="813" y="135">Ordernr:</text><rect class="i" x="962" y="119" width="111" height="22"/><text class="l" x="813" y="161">Listnr:</text><rect class="i" x="962" y="145" width="111" height="22"/><text class="l" x="813" y="187">Kollantal:</text><rect class="i" x="962" y="171" width="111" height="22"/><text class="l" x="813" y="213">Vikt kg:</text><rect class="i" x="962" y="197" width="111" height="22"/><text class="l" x="813" y="239">Pallar:</text><rect class="i" x="962" y="223" width="111" height="22"/>
<rect class="btn" x="1384" y="119" width="105" height="21"/><use href="#gr" x="1406" y="122"/><text class="b" x="1450" y="134">Avbryt</text><rect class="btn" x="1384" y="146" width="105" height="20"/><use href="#dr" x="1410" y="148"/><text class="b" x="1450" y="160">Starta</text>
<rect class="p" x="1148" y="247" width="179" height="51"/><rect class="c" x="1152" y="255" width="11" height="11"/><text class="l" x="1168" y="264">Inklusive moms</text><rect class="c" x="1152" y="280" width="11" height="11"/><text class="l" x="1168" y="289">Med intra kn-koder</text>
<text class="l" x="813" y="290">Skriv antal ex:</text><rect class="i" x="962" y="273" width="71" height="24"/><text class="v" x="965" y="289">1</text><text class="l" x="813" y="316">Utskrift av listor:</text><text class="l" x="1150" y="316">Information:</text><rect class="i" x="815" y="325" width="303" height="127"/><rect class="i" x="1152" y="325" width="303" height="127"/>
<rect class="s" x="815" y="505" width="80" height="24"/><text class="l" x="823" y="523">SystemQ</text><rect class="s" x="900" y="505" width="192" height="24"/><rect class="s" x="1098" y="505" width="194" height="24"/><rect class="s" x="1297" y="505" width="193" height="24"/>
</g><text class="big" x="1528.5" y="83.3">Följe</text><text class="big" x="1527.9" y="134">sedel</text></g>

<g id="bilda-faktura" class="nd"><g transform="translate(1100,210) scale(.38139,.33333)" font-size="12">
<rect class="fr" x="60" y="130" width="695" height="515"/><rect class="bg" x="63" y="136" width="689" height="506"/><rect class="tb" x="60" y="130" width="695" height="30"/><use href="#ic" x="66" y="136"/><text class="t" x="85" y="149">Bilda faktura:DEMO AB: SystemQ</text><use href="#c" x="690" y="135"/>
<rect class="mb" x="63" y="160" width="689" height="22"/>
<text class="m" x="68" y="175">Arkiv</text><text class="m" x="108" y="175">SystemQ</text><text class="m" x="170" y="175">Fakturering</text><text class="m" x="247" y="175">Sökrutiner</text><text class="m" x="316" y="175">Verktyg</text><text class="m" x="372" y="175">Inställningar</text><text class="m" x="452" y="175">Lgsdistor</text><text class="m" x="512" y="175">Hjälp</text>
<rect class="p" x="120" y="206" width="360" height="44"/>
<text class="l" x="70" y="200">Fakturanr:</text><rect class="i" x="158" y="187" width="60" height="19"/><text class="l" x="244" y="200">Ordernummer:</text><rect class="i" x="325" y="187" width="60" height="19"/><text class="l" x="410" y="200">Fakt-datum:</text><rect class="i" x="484" y="187" width="60" height="19"/><text class="v" x="487" y="201">070308</text>
<text class="l" x="130" y="220">Nr:</text><rect class="i" x="158" y="208" width="45" height="19"/><text class="l" x="215" y="220">Namn:</text><rect class="i" x="252" y="208" width="218" height="20"/><rect class="i" x="252" y="229" width="218" height="20"/>
<rect class="btn" x="563" y="187" width="89" height="18"/><use href="#pg" x="592" y="188"/><text class="b" x="617" y="200">Ny</text><rect class="btn" x="657" y="187" width="89" height="18"/><use href="#gr" x="677" y="189"/><text class="b" x="712" y="200">Avbryt</text><rect class="btn" x="563" y="208" width="89" height="20"/><use href="#dk" x="584" y="210"/><text class="b" x="615" y="222">Spara</text><rect class="btn" x="657" y="231" width="89" height="18"/><text class="b" x="701" y="244">Listan</text><rect class="btn" x="657" y="252" width="89" height="18"/><text class="b" x="708" y="265">Infoga</text><rect class="btn" x="657" y="274" width="89" height="18"/><text class="b" x="701" y="287">Huvud</text><rect class="btn" x="657" y="296" width="89" height="18"/><text class="b" x="701" y="309">Fler order</text><rect class="off" x="657" y="318" width="89" height="18"/><text class="d" x="701" y="331">Kopiera</text>
<rect class="p" x="72" y="250" width="580" height="305"/>
<rect class="y" x="78" y="253" width="130" height="18"/><rect class="y" x="210" y="253" width="14" height="18"/><text class="v" x="80" y="266">1  Vanlig faktura</text><rect class="y" x="225" y="253" width="128" height="18"/><rect class="y" x="355" y="253" width="15" height="18"/><text class="v" x="228" y="266">3    Svenska</text><rect class="y" x="375" y="253" width="130" height="18"/><rect class="y" x="505" y="253" width="15" height="18"/><text class="v" x="378" y="266">0   Full moms</text>
<rect class="i" x="78" y="274" width="30" height="18"/><text class="v" x="80" y="287">0</text><rect class="q" x="143" y="274" width="100" height="18"/><text class="l" x="325" y="286">Valuta</text><rect class="i" x="375" y="274" width="60" height="18"/><text class="v" x="377" y="287">SEK</text><text class="l" x="445" y="286">Fakturaregisters:</text><rect class="i" x="555" y="274" width="60" height="18"/><text class="v" x="558" y="287">1</text>
<text class="l" x="78" y="308">Leveransadress:</text><rect class="i" x="78" y="316" width="219" height="20"/><rect class="i" x="78" y="338" width="219" height="20"/><rect class="i" x="78" y="360" width="219" height="20"/><rect class="i" x="78" y="382" width="219" height="20"/><rect class="i" x="78" y="404" width="219" height="20"/>
<rect class="q" x="358" y="316" width="219" height="84"/><text class="l" x="358" y="417">Betalning via:</text><rect class="q" x="460" y="404" width="117" height="20"/>
<text class="l" x="78" y="440">Vår referens</text><text class="l" x="163" y="440">Er ordernr</text><text class="l" x="257" y="440">Er referens</text><rect class="i" x="78" y="448" width="82" height="18"/>
<text class="l" x="78" y="482">Levsätt</text><text class="l" x="150" y="482">Levvillkor</text><rect class="i" x="78" y="491" width="59" height="19"/><text class="v" x="80" y="504">0</text><rect class="i" x="150" y="491" width="450" height="19"/>
<text class="l" x="78" y="526">Kostnadsställe</text><text class="l" x="185" y="526">Kostnadsbärare/Projektnr</text><text class="l" x="467" y="526">Fortsättnings</text><rect class="i" x="78" y="534" width="95" height="19"/><rect class="i" x="186" y="534" width="97" height="19"/><rect class="q" x="467" y="534" width="88" height="19"/>
<text class="l" x="70" y="592">Summa för förd fakturan:</text><rect class="q" x="200" y="599" width="95" height="19"/><text class="v" x="250" y="613">0.00</text><text class="l" x="307" y="612">Moms:</text><rect class="q" x="352" y="599" width="95" height="19"/><text class="v" x="403" y="613">0.00</text><text class="l" x="467" y="612">Totalt:</text><rect class="q" x="512" y="599" width="95" height="19"/><text class="v" x="563" y="613">0.00</text><rect class="q" x="628" y="599" width="44" height="19"/><text class="v" x="630" y="613">SEK</text>
<rect class="s" x="72" y="621" width="65" height="20"/><text class="l" x="78" y="635">SystemQ</text><rect class="s" x="143" y="621" width="192" height="20"/><text class="l" x="149" y="635">Sista Faktura anummer:</text><rect class="s" x="340" y="621" width="188" height="20"/><text class="l" x="346" y="635">281547</text><rect class="s" x="533" y="621" width="214" height="20"/>
</g><text class="big" x="1231.6" y="330.7">Bilda</text><text class="big" x="1237.3" y="382.7">faktura</text></g>

<g id="utskrift-faktura" class="nd"><g transform="translate(1100,210) scale(.38139,.33333)" font-size="14">
<rect class="fr" x="890" y="85" width="741" height="585"/><rect class="bg" x="893" y="91" width="735" height="576"/><rect class="tb" x="890" y="85" width="741" height="37"/><use href="#ic" x="896" y="95"/><text class="t" x="915" y="109">Faktura utskrift:DEMO AB: SystemQ</text><use href="#c" x="1507" y="92"/>
<rect class="mb" x="893" y="122" width="735" height="28"/>
<text class="m" x="898" y="140">Arkiv</text><text class="m" x="940" y="140">SystemQ</text><text class="m" x="1018" y="140">Fakturering</text><text class="m" x="1110" y="140">Sökrutiner</text><text class="m" x="1192" y="140">Inställningar</text><text class="m" x="1287" y="140">Hjälp</text>
<rect class="btn" x="1357" y="152" width="105" height="23"/><use href="#dr" x="1383" y="155"/><text class="b" x="1420" y="168">Starta</text><rect class="btn" x="1467" y="152" width="105" height="23"/><use href="#gr" x="1492" y="156"/><text class="b" x="1535" y="168">Avbryt</text>
<rect class="q" x="898" y="177" width="564" height="28"/><rect class="act" x="903" y="180" width="57" height="25"/><text class="b" x="931" y="198">Urval</text><rect class="tab" x="963" y="180" width="82" height="25"/><text class="b" x="1004" y="198">Alternativ</text>
<rect x="903" y="212" width="555" height="400" fill="#c0c0c0" stroke="#6f879d" stroke-width="3.5"/>
<rect class="gb" x="913" y="238" width="432" height="78"/><text class="l" x="918" y="258">Fakturanummer</text><text class="l" x="918" y="282">Från:</text><rect class="i" x="965" y="268" width="112" height="20"/><text class="v" x="968" y="282">0</text><text class="l" x="1110" y="282">Till:</text><rect class="i" x="1143" y="268" width="114" height="20"/>
<rect class="gb" x="913" y="340" width="192" height="78"/><text class="l" x="918" y="385">Omgång:</text><rect class="i" x="998" y="370" width="27" height="22"/><text class="v" x="1005" y="385">1</text>
<rect class="gb" x="1110" y="340" width="235" height="78"/><text class="l" x="1116" y="385">Faktura datum:</text><rect class="i" x="1240" y="370" width="50" height="22"/><text class="v" x="1242" y="385">070308</text>
<rect class="gb" x="913" y="445" width="432" height="130"/><text class="l" x="918" y="490">Skriv ut antal ex. original+kopia</text><text class="l" x="918" y="514">Skriv ut orginal på skrivare nr</text><text class="l" x="918" y="540">Skriv ut kopia på skrivare nr</text><rect class="i" x="1212" y="472" width="28" height="23"/><rect class="i" x="1212" y="498" width="28" height="22"/><rect class="i" x="1212" y="525" width="28" height="22"/><text class="v" x="1216" y="541">0</text>
<rect class="s" x="902" y="643" width="80" height="24"/><text class="l" x="910" y="660">SystemQ</text><rect class="s" x="988" y="643" width="190" height="24"/><rect class="s" x="1185" y="643" width="190" height="24"/><rect class="s" x="1382" y="643" width="190" height="24"/>
</g><text class="big" x="1562.4" y="330.7">Utskrift</text><text class="big" x="1562.4" y="381.7">Faktura</text></g>

<g id="kundord-status" class="nd"><g transform="translate(730,310) scale(.33333)" font-size="13">
<rect class="fr" x="43" y="27" width="793" height="575"/><rect class="bg" x="46" y="33" width="787" height="566"/><rect class="tb" x="43" y="27" width="793" height="29"/><use href="#ic" x="47" y="33"/><text class="t" x="68" y="46">Status kundorder:DEMO AB: SystemQ</text><use href="#c" x="765" y="33"/>
<rect class="mb" x="46" y="56" width="787" height="22"/>
<text class="m" x="50" y="72">Arkiv</text><text class="m" x="93" y="72">SystemQ</text><text class="m" x="162" y="72">Sökrutiner</text><text class="m" x="237" y="72">Hjälp</text>
<text class="l" x="52" y="95">Ordernummer</text><rect class="i" x="148" y="82" width="64" height="18"/><text class="v" x="150" y="95">1594</text><text class="l" x="242" y="95">Kundens order</text><rect class="i" x="352" y="82" width="128" height="18"/><rect class="btn" x="747" y="82" width="81" height="18"/><use href="#gr" x="762" y="84"/><text class="b" x="796" y="95">Avbryt</text>
<text class="l" x="52" y="115">Kundnummer</text><rect class="i" x="148" y="102" width="48" height="18"/><text class="v" x="150" y="115">128</text><text class="l" x="242" y="115">Namn:</text><rect class="i" x="352" y="102" width="216" height="20"/><text class="v" x="355" y="116">Kryssockiubben</text><rect class="btn" x="747" y="103" width="81" height="18"/><use href="#pg" x="772" y="104"/><text class="b" x="798" y="117">Ny</text>
<text class="l" x="52" y="135">Leverantör</text><rect class="i" x="148" y="123" width="48" height="18"/><text class="l" x="242" y="135">Namn:</text><rect class="i" x="352" y="124" width="216" height="18"/><rect class="p" x="570" y="102" width="108" height="40"/>
<text class="l" x="52" y="155">Inköpsorder</text><rect class="i" x="148" y="144" width="57" height="18"/><text class="l" x="242" y="155">Lever. order</text><rect class="i" x="352" y="144" width="128" height="18"/><rect class="off" x="747" y="145" width="81" height="18"/><text class="d" x="787" y="158">Specifika</text>
<text class="l" x="52" y="176">Godsmärke</text><rect class="i" x="148" y="165" width="285" height="18"/><text class="l" x="453" y="176">Ordersumma:</text><rect class="p" x="542" y="165" width="118" height="20"/>
<rect class="q" x="50" y="185" width="778" height="23"/>
<rect class="tab" x="55" y="187" width="67" height="21"/><text class="b" x="88" y="202">Ordrar</text><rect class="tab" x="127" y="187" width="80" height="21"/><text class="b" x="167" y="202">Huvud (f2)</text><rect class="act" x="212" y="187" width="78" height="21"/><text class="b" x="251" y="202">Inköp (F3)</text><rect class="tab" x="295" y="187" width="80" height="21"/><text class="d" x="335" y="202">Prislist (f4)</text><rect class="tab" x="378" y="187" width="80" height="21"/><text class="b" x="418" y="202">Status (F5)</text>
<rect class="box" x="53" y="211" width="772" height="364"/><text class="l" x="60" y="228">Rubrik</text>
<rect class="i" x="65" y="236" width="747" height="324"/><rect class="q" x="65" y="236" width="67" height="14"/><text class="b" x="98" y="248">Bestnr</text><rect class="q" x="135" y="236" width="80" height="14"/><text class="b" x="175" y="248">Lev.nr</text><rect class="q" x="218" y="236" width="202" height="14"/><text class="b" x="319" y="248">Namn</text><rect class="q" x="422" y="236" width="148" height="14"/><rect class="q" x="572" y="236" width="150" height="14"/>
<rect x="65" y="251" width="660" height="15" fill="none" stroke="#a8a8e0" stroke-width="2"/><text class="v" x="66" y="263">3633</text><text class="v" x="136" y="263">503</text><text class="v" x="232" y="263">Byggplast Jan Eslandsson AB</text>
<rect class="s" x="52" y="579" width="75" height="20"/><text class="l" x="60" y="593">SystemQ</text><rect class="s" x="133" y="579" width="222" height="20"/><rect class="s" x="367" y="579" width="223" height="20"/><rect class="s" x="596" y="579" width="232" height="20"/>
</g><text class="big" x="875" y="411.7">Kundord</text><text class="big" x="874.3" y="463.3">status</text></g>

<g id="order-till-inkop" class="nd"><g transform="translate(250,550) scale(.35714,.33333)" font-size="14">
<rect class="fr" x="22" y="27" width="741" height="640"/><rect class="bg" x="25" y="33" width="735" height="634"/><rect class="tb" x="22" y="27" width="741" height="31"/><use href="#ic" x="28" y="35"/><text class="t" x="48" y="48">Bilda inköpsorder från kundorder:DEMO AB: SystemQ</text><use href="#c" x="692" y="34"/>
<rect class="mb" x="25" y="58" width="735" height="26"/>
<text class="m" x="32" y="76">Arkiv</text><text class="m" x="76" y="76">SystemQ</text><text class="m" x="146" y="76">Sökrutiner</text><text class="m" x="224" y="76">Hjälp</text>
<rect class="btn" x="548" y="86" width="102" height="22"/><use href="#dr" x="572" y="89"/><text class="b" x="606" y="102">Starta</text><rect class="btn" x="654" y="86" width="100" height="22"/><use href="#gr" x="677" y="90"/><text class="b" x="716" y="102">Avbryt</text>
<rect class="q" x="35" y="110" width="720" height="25"/><rect class="tab" x="38" y="112" width="52" height="23"/><text class="b" x="64" y="129">Urval</text><rect class="act" x="93" y="112" width="79" height="23"/><text class="b" x="132" y="129">Alternativ</text><rect class="tab" x="175" y="112" width="57" height="23"/><text class="b" x="203" y="129">Fritext</text><rect class="tab" x="237" y="112" width="83" height="23"/><text class="d" x="278" y="129">Bildskärm</text><rect class="tab" x="325" y="112" width="57" height="23"/><text class="b" x="353" y="129">Datafil</text>
<rect class="box" x="37" y="140" width="715" height="492"/>
<text class="l" x="44" y="157">Företagsnr:</text><rect class="i" x="160" y="143" width="66" height="19"/><text class="l" x="44" y="203">Företagsnr:</text><rect class="i" x="160" y="189" width="66" height="19"/><text class="l" x="280" y="157">Lev.adr. på orderrad meddelat med adressdi:</text><text class="l" x="280" y="203">Lev.adr. på orderrad meddelat med adressdi, ansvarat ...</text>
<rect class="p" x="46" y="233" width="222" height="92"/><text class="l" x="52" y="248">Ordertyp</text><circle class="rs" cx="58" cy="267" r="4"/><text class="l" x="68" y="271">Endast direkt</text><circle class="r" cx="58" cy="290" r="5"/><text class="l" x="68" y="294">Endast lager</text><circle class="r" cx="58" cy="313" r="5"/><text class="l" x="68" y="317">Endast inprelliv genomförda</text>
<rect class="p" x="273" y="233" width="224" height="67"/><text class="l" x="280" y="248">Radordning</text><circle class="rs" cx="287" cy="267" r="4"/><text class="l" x="297" y="271">OrdPos-BestPos</text><circle class="r" cx="287" cy="290" r="5"/><text class="l" x="297" y="294">BestPos från Hl</text>
<rect class="p" x="502" y="233" width="222" height="67"/><text class="l" x="508" y="248">Fritext kundorder</text><circle class="rs" cx="515" cy="267" r="4"/><text class="l" x="525" y="271">Med</text><circle class="r" cx="515" cy="290" r="5"/><text class="l" x="525" y="294">Utan</text>
<rect class="p" x="273" y="348" width="224" height="67"/><text class="l" x="280" y="362">Fritext kundorder</text><circle class="rs" cx="287" cy="381" r="4"/><text class="l" x="297" y="385">Med</text><circle class="r" cx="287" cy="404" r="5"/><text class="l" x="297" y="408">Utan</text>
<rect class="p" x="502" y="348" width="222" height="67"/><text class="l" x="508" y="362">Extra adress</text><circle class="r" cx="515" cy="382" r="5"/><circle class="r" cx="515" cy="405" r="5"/><text class="l" x="525" y="409">Bara ersättatid adressat</text>
<rect class="p" x="498" y="417" width="167" height="22"/><rect class="c" x="502" y="423" width="10" height="10"/><text class="l" x="517" y="432">Uppdelat på kontinent</text><rect class="p" x="498" y="440" width="209" height="22"/><rect class="c" x="502" y="446" width="10" height="10"/><text class="l" x="517" y="455">Med obligatorisk text</text>
<rect class="p" x="46" y="440" width="222" height="67"/><text class="l" x="52" y="455">Lista</text><circle class="r" cx="58" cy="473" r="5"/><text class="l" x="68" y="477">Med</text><circle class="rs" cx="58" cy="496" r="4"/><text class="l" x="68" y="500">Utan</text>
<rect class="p" x="273" y="440" width="224" height="67"/><text class="l" x="280" y="455">Koppling kundorder-Inköpsorder</text><circle class="rs" cx="287" cy="473" r="4"/><text class="l" x="297" y="477">OrdRad-InkRad kopplade</text><circle class="r" cx="287" cy="496" r="5"/><text class="l" x="297" y="500">Ingen koppling</text>
<rect class="s" x="35" y="638" width="77" height="24"/><text class="l" x="42" y="652">SystemQ</text><rect class="s" x="117" y="638" width="206" height="24"/><rect class="s" x="330" y="638" width="203" height="24"/><rect class="s" x="538" y="638" width="217" height="24"/><text class="l" x="546" y="652">Klar</text>
</g><text class="big" x="390" y="632.3">Order</text><text class="big" x="389.8" y="689.3">till Inköp</text></g>

<g id="utskrift-inkop" class="nd"><g transform="translate(250,550) scale(.35714,.33333)" font-size="14">
<rect class="fr" x="795" y="22" width="742" height="544"/><rect class="bg" x="798" y="28" width="736" height="535"/><rect class="tb" x="795" y="22" width="742" height="31"/><use href="#ic" x="801" y="30"/><text class="t" x="820" y="43">Inköpsorder utskrift:DEMO AB: SystemQ</text><use href="#c" x="1465" y="29"/>
<rect class="mb" x="798" y="53" width="736" height="27"/>
<text class="m" x="805" y="71">Arkiv</text><text class="m" x="848" y="71">SystemQ</text><text class="m" x="918" y="71">Inköp</text><text class="m" x="968" y="71">Sökrutiner</text><text class="m" x="1045" y="71">Inställningar</text><text class="m" x="1135" y="71">Hjälp</text>
<rect class="btn" x="1322" y="80" width="100" height="22"/><use href="#dr" x="1345" y="83"/><text class="b" x="1380" y="96">Starta</text><rect class="btn" x="1427" y="80" width="100" height="22"/><use href="#gr" x="1448" y="84"/><text class="b" x="1490" y="96">Avbryt</text>
<rect class="q" x="805" y="104" width="725" height="26"/><rect class="act" x="810" y="106" width="52" height="24"/><text class="b" x="836" y="123">Urval</text><rect class="tab" x="866" y="106" width="76" height="24"/><text class="b" x="904" y="123">Proforma</text>
<rect class="box" x="810" y="135" width="715" height="400"/>
<text class="l" x="817" y="150">Ordernummer:</text><text class="l" x="817" y="174">Från:</text><rect class="i" x="860" y="160" width="106" height="20"/><text class="l" x="988" y="174">Till:</text><rect class="i" x="1030" y="160" width="107" height="20"/>
<rect class="p" x="1177" y="137" width="160" height="68"/><text class="l" x="1183" y="150">Fortlögen pris</text><circle class="r" cx="1190" cy="170" r="5"/><text class="l" x="1200" y="174">Ej pris</text><circle class="rs" cx="1190" cy="193" r="4"/><text class="l" x="1200" y="197">Med pris</text>
<rect class="p" x="1348" y="137" width="167" height="68"/><text class="l" x="1355" y="150">Skriv EAN-kod</text><circle class="r" cx="1362" cy="170" r="5"/><text class="l" x="1372" y="174">JA</text><circle class="rs" cx="1362" cy="193" r="4"/><text class="l" x="1372" y="197">NEJ</text>
<rect class="p" x="815" y="228" width="350" height="72"/><text class="l" x="824" y="243">Status</text><circle class="r" cx="832" cy="262" r="5"/><text class="l" x="842" y="266">Alla</text><rect class="c" x="883" y="257" width="10" height="10"/><text class="l" x="898" y="266">FORB</text><rect class="c" x="940" y="257" width="10" height="10"/><text class="l" x="955" y="266">BEST</text><rect class="c" x="997" y="257" width="10" height="10"/><text class="l" x="1012" y="266">SKICK</text><rect class="c" x="827" y="280" width="10" height="10"/><text class="l" x="842" y="289">LEV*</text><rect class="c" x="883" y="280" width="10" height="10"/><text class="l" x="898" y="289">FAKT</text><rect class="c" x="940" y="280" width="10" height="10"/>
<rect class="p" x="1177" y="248" width="160" height="70"/><circle class="r" cx="1190" cy="262" r="5"/><text class="l" x="1200" y="266">Svenska</text><circle class="r" cx="1190" cy="285" r="5"/><text class="l" x="1200" y="289">Engelska</text>
<rect class="p" x="1177" y="345" width="160" height="65"/><text class="l" x="1183" y="358">Sortering</text><circle class="r" cx="1190" cy="378" r="5"/><text class="l" x="1200" y="382">Btl.namn eller lev.lnn</text><circle class="r" cx="1190" cy="400" r="5"/><text class="l" x="1200" y="404">Best.datum</text>
<rect class="p" x="1177" y="437" width="160" height="63"/><text class="l" x="1183" y="449">Leveransadress</text><circle class="r" cx="1190" cy="469" r="5"/><text class="l" x="1200" y="473">Med</text><circle class="rs" cx="1190" cy="492" r="4"/><text class="l" x="1200" y="496">Utan</text>
<rect class="s" x="807" y="542" width="78" height="21"/><text class="l" x="815" y="557">SystemQ</text><rect class="s" x="889" y="542" width="206" height="21"/><rect class="s" x="1100" y="542" width="205" height="21"/><rect class="s" x="1310" y="542" width="218" height="21"/>
</g><text class="big" x="662.9" y="648.3">Utskrift</text><text class="big" x="662.9" y="699">inköp</text></g>

<g id="bekr-inkop" class="nd"><g transform="translate(800,550) scale(.35714,.33333)" font-size="14">
<rect class="fr" x="37" y="25" width="741" height="595"/><rect class="bg" x="40" y="31" width="735" height="586"/><rect class="tb" x="37" y="25" width="741" height="30"/><use href="#ic" x="42" y="33"/><text class="t" x="62" y="46">Inköpsorder registrera:DEMO AB: SystemQ</text><use href="#c" x="708" y="32"/>
<rect class="mb" x="40" y="55" width="735" height="26"/>
<text class="m" x="45" y="73">Arkiv</text><text class="m" x="88" y="73">SystemQ</text><text class="m" x="155" y="73">Inköp</text><text class="m" x="203" y="73">Sökrutiner</text><text class="m" x="278" y="73">Verktyg</text><text class="m" x="340" y="73">Inställningar</text><text class="m" x="426" y="73">Hjälp</text>
<rect class="y" x="48" y="84" width="127" height="18"/><rect class="y" x="176" y="84" width="16" height="18"/><text class="v" x="52" y="97">100  Stockhol...</text><rect class="y" x="235" y="84" width="127" height="18"/><rect class="y" x="364" y="84" width="18" height="18"/><text class="v" x="238" y="97">Lagerorder</text>
<rect class="btn" x="570" y="82" width="95" height="20"/><use href="#dk" x="592" y="85"/><text class="b" x="625" y="96">Spara</text><rect class="btn" x="672" y="82" width="96" height="20"/><use href="#gr" x="695" y="85"/><text class="b" x="738" y="96">Avbryt</text><rect class="btn" x="672" y="105" width="96" height="19"/><use href="#pg" x="700" y="106"/><text class="b" x="727" y="119">Ny</text>
<text class="l" x="47" y="118">Bestnr:</text><rect class="i" x="127" y="106" width="65" height="20"/><text class="v" x="130" y="120">3633</text><text class="l" x="204" y="118">Lev:</text><rect class="i" x="237" y="106" width="51" height="20"/><text class="v" x="240" y="120">503</text><text class="l" x="300" y="118">Namn</text><rect class="i" x="340" y="104" width="240" height="21"/><text class="v" x="343" y="119">Byggplast Jan Eslandsson AB</text><rect class="i" x="340" y="128" width="240" height="20"/><text class="l" x="237" y="140">00 000175</text>
<rect class="q" x="47" y="150" width="721" height="26"/>
<rect class="tab" x="50" y="152" width="85" height="24"/><text class="b" x="92" y="169">Huvud (F1)</text><rect class="tab" x="140" y="152" width="85" height="24"/><text class="b" x="182" y="169">Inköpsrader</text><rect class="act" x="232" y="152" width="76" height="24"/><text class="b" x="270" y="169">Infoga(f2)</text><rect class="tab" x="314" y="152" width="81" height="24"/><text class="d" x="354" y="169">Skeppning</text><rect class="tab" x="400" y="152" width="40" height="24"/><text class="d" x="420" y="169">Info</text><rect class="tab" x="446" y="152" width="54" height="24"/><text class="b" x="473" y="169">Pritext</text><rect class="tab" x="505" y="152" width="102" height="24"/><text class="b" x="556" y="169">Inleverans f(3)</text><rect class="tab" x="612" y="152" width="128" height="24"/><text class="b" x="676" y="169">LevFaktKontr f(4)</text>
<rect class="box" x="50" y="180" width="715" height="390"/>
<text class="l" x="57" y="195">Pos.nr:</text><rect class="i" x="130" y="182" width="63" height="18"/><text class="v" x="134" y="195">10</text><rect class="y" x="247" y="182" width="125" height="18"/><rect class="y" x="374" y="182" width="18" height="18"/><text class="v" x="250" y="195">Blockhlörensaw</text>
<rect class="btn" x="635" y="182" width="26" height="18"/><text class="b" x="648" y="195">|&lt;</text><rect class="btn" x="665" y="182" width="26" height="18"/><text class="b" x="678" y="195">&lt;</text><rect class="btn" x="695" y="182" width="26" height="18"/><text class="b" x="708" y="195">&gt;</text><rect class="btn" x="726" y="182" width="26" height="18"/><text class="b" x="739" y="195">&gt;|</text>
<rect class="btn" x="555" y="204" width="95" height="18"/><text class="b" x="602" y="217">TaBortRad</text><rect class="btn" x="658" y="204" width="94" height="18"/><text class="b" x="705" y="217">OgRad</text>
<text class="l" x="57" y="238">Artikelnummer</text><text class="l" x="183" y="238">BeskrivningG AB+G</text><rect x="57" y="247" width="111" height="20" fill="#dfe8f4"/><text class="v" x="60" y="261">1501</text><rect class="i" x="183" y="247" width="397" height="20"/><text class="v" x="186" y="261">Rantfot till optimistjolle</text>
<text class="l" x="57" y="283">Leveransbekräftning:</text><rect class="i" x="185" y="272" width="215" height="18"/>
<text class="l" x="57" y="305">A-pris</text><text class="l" x="150" y="305">Enh.pris</text><text class="l" x="246" y="305">Antal</text><text class="l" x="495" y="305">Lev.vecka</text><text class="l" x="555" y="305">Lev.datum</text><text class="l" x="632" y="305">Status</text><text class="l" x="680" y="305">Lev.antal</text>
<rect class="i" x="57" y="315" width="83" height="20"/><text class="v" x="105" y="329">33.00</text><rect class="y" x="153" y="315" width="62" height="20"/><rect class="y" x="217" y="315" width="16" height="20"/><text class="v" x="156" y="329">ST +</text><rect class="i" x="246" y="315" width="66" height="20"/><text class="v" x="250" y="329">0</text><rect class="y" x="327" y="315" width="61" height="20"/><rect class="y" x="390" y="315" width="18" height="20"/><text class="v" x="330" y="329">ST +</text><rect class="i" x="420" y="315" width="65" height="20"/><text class="v" x="425" y="329">33</text><rect class="i" x="497" y="315" width="46" height="20"/><text class="v" x="500" y="329">0702</text><rect class="i" x="555" y="315" width="65" height="20"/><text class="v" x="632" y="329">POOD</text><text class="v" x="680" y="329">0</text>
<rect class="q" x="55" y="338" width="700" height="24"/><rect class="act" x="62" y="339" width="63" height="23"/><text class="b" x="93" y="355">Postext</text><rect class="tab" x="130" y="339" width="35" height="23"/><text class="b" x="147" y="355">Info</text><rect class="tab" x="172" y="339" width="53" height="23"/><text class="b" x="198" y="355">Lager</text><rect class="tab" x="230" y="339" width="45" height="23"/><text class="b" x="252" y="355">Parti</text>
<rect class="box" x="58" y="367" width="694" height="191"/><rect class="w" x="62" y="390" width="528" height="110"/><text class="v" x="66" y="403">Text</text><text class="v" x="66" y="423">Text</text><circle class="r" cx="618" cy="400" r="5"/><text class="l" x="628" y="404">PosText</text><circle class="rs" cx="618" cy="423" r="4"/><text class="l" x="628" y="427">ArtBesk</text>
<text class="l" x="48" y="588">Ordersumma:</text><text class="l" x="185" y="588">0.00</text><text class="l" x="236" y="588">Moms:</text><text class="l" x="326" y="588">0.00</text><text class="l" x="385" y="588">Totalt:</text><text class="l" x="448" y="588">0.00</text><text class="l" x="500" y="588">SEK</text>
<rect class="s" x="48" y="596" width="74" height="21"/><text class="l" x="56" y="611">SystemQ</text><rect class="s" x="127" y="596" width="208" height="21"/><text class="l" x="133" y="611">Ligger i platspåse</text><rect class="s" x="340" y="596" width="208" height="21"/><rect class="s" x="553" y="596" width="217" height="21"/>
</g><text class="big" x="952" y="656.7">Bekr</text><text class="big" x="949.5" y="707.3">inköp</text></g>

<g id="lev-faktura" class="nd"><g transform="translate(800,550) scale(.35714,.33333)" font-size="14">
<rect class="fr" x="813" y="25" width="742" height="595"/><rect class="bg" x="816" y="31" width="736" height="586"/><rect class="tb" x="813" y="25" width="742" height="30"/><use href="#ic" x="818" y="33"/><text class="t" x="838" y="46">Inköpsorder registrera:DEMO AB: SystemQ</text><use href="#c" x="1484" y="32"/>
<rect class="mb" x="816" y="55" width="736" height="26"/>
<text class="m" x="821" y="73">Arkiv</text><text class="m" x="864" y="73">SystemQ</text><text class="m" x="931" y="73">Inköp</text><text class="m" x="979" y="73">Sökrutiner</text><text class="m" x="1054" y="73">Verktyg</text><text class="m" x="1115" y="73">Inställningar</text><text class="m" x="1202" y="73">Hjälp</text>
<rect class="y" x="825" y="84" width="125" height="18"/><rect class="y" x="952" y="84" width="16" height="18"/><text class="v" x="828" y="97">100  Stockhol...</text><rect class="y" x="1013" y="84" width="127" height="18"/><rect class="y" x="1142" y="84" width="16" height="18"/><text class="v" x="1016" y="97">Lagerorder</text>
<rect class="off" x="1346" y="82" width="94" height="20"/><text class="d" x="1398" y="96">Spara</text><rect class="btn" x="1448" y="82" width="97" height="20"/><use href="#gr" x="1470" y="85"/><text class="b" x="1512" y="96">Avbryt</text><rect class="btn" x="1448" y="105" width="97" height="19"/><use href="#pg" x="1476" y="106"/><text class="b" x="1503" y="119">Ny</text>
<text class="l" x="823" y="118">Bestnr:</text><rect class="i" x="903" y="106" width="65" height="20"/><text class="v" x="906" y="120">3633</text><text class="l" x="980" y="118">Lev:</text><rect class="i" x="1013" y="106" width="51" height="20"/><text class="v" x="1016" y="120">503</text><text class="l" x="1075" y="118">Namn</text><rect class="i" x="1115" y="104" width="240" height="21"/><text class="v" x="1118" y="119">Byggplast Jan Eslandsson AB</text>
<rect class="q" x="823" y="150" width="722" height="26"/>
<rect class="tab" x="826" y="152" width="84" height="24"/><text class="b" x="868" y="169">Huvud (F1)</text><rect class="tab" x="916" y="152" width="85" height="24"/><text class="b" x="958" y="169">Inköpsrader</text><rect class="tab" x="1008" y="152" width="76" height="24"/><text class="b" x="1046" y="169">Infoga(f2)</text><rect class="tab" x="1090" y="152" width="80" height="24"/><text class="d" x="1130" y="169">Skeppning</text><rect class="tab" x="1176" y="152" width="40" height="24"/><text class="d" x="1196" y="169">Info</text><rect class="tab" x="1222" y="152" width="54" height="24"/><text class="b" x="1249" y="169">Pritext</text><rect class="tab" x="1282" y="152" width="101" height="24"/><text class="b" x="1332" y="169">Inleverans f(3)</text><rect class="act" x="1388" y="152" width="129" height="24"/><text class="b" x="1452" y="169">LevFaktKontr f(4)</text>
<rect class="box" x="826" y="180" width="716" height="390"/>
<text class="l" x="833" y="195">Ink.nr:</text><rect class="i" x="920" y="180" width="66" height="20"/><text class="v" x="923" y="194">0</text><text class="l" x="1022" y="195">Fakturanummer:</text><rect class="i" x="1118" y="180" width="190" height="20"/>
<rect class="btn" x="1332" y="180" width="96" height="18"/><text class="b" x="1380" y="194">Godkänn</text><rect class="btn" x="1435" y="180" width="95" height="18"/><text class="b" x="1482" y="194">Återställ hela</text><rect class="btn" x="1332" y="204" width="96" height="18"/><text class="b" x="1380" y="218">Lev.fakt.reg</text><rect class="btn" x="1435" y="204" width="95" height="18"/><text class="b" x="1482" y="218">Återställ rad</text>
<rect class="q" x="830" y="224" width="700" height="24"/><rect class="tab" x="838" y="226" width="55" height="22"/><text class="b" x="865" y="242">Huvud</text><rect class="act" x="898" y="226" width="54" height="22"/><text class="b" x="925" y="242">Rader</text><rect class="tab" x="957" y="226" width="73" height="22"/><text class="b" x="993" y="242">Avstämn</text>
<rect class="box" x="835" y="253" width="695" height="302"/><text class="l" x="842" y="270">Fakturarader</text>
<rect class="i" x="842" y="277" width="683" height="203"/><rect class="q" x="844" y="278" width="46" height="15"/><text class="b" x="867" y="290">Pos.</text><rect class="q" x="892" y="278" width="108" height="15"/><text class="b" x="946" y="290">Artikelnr</text><rect class="q" x="1003" y="278" width="294" height="15"/><text class="b" x="1110" y="290">Benämning</text><rect class="q" x="1300" y="278" width="85" height="15"/><text class="b" x="1342" y="290">Fakt.belopp</text><rect class="q" x="1388" y="278" width="47" height="15"/><text class="b" x="1411" y="290">Status</text><rect class="q" x="1438" y="278" width="82" height="15"/><text class="b" x="1479" y="290">Serienr/Märk</text>
<path d="M842 295H1525M842 313H1525" stroke="#a8a8e0" stroke-width="2"/><text class="v" x="860" y="308">10</text><text class="v" x="893" y="308">1501</text><text class="v" x="1005" y="308">Rantfot t. optimist</text><text class="v" x="1355" y="308">0.00</text><text class="v" x="1390" y="308">PRES</text>
<rect x="845" y="483" width="675" height="12" fill="#dfe8f4" stroke="#a0b0c8"/><rect class="i" x="850" y="500" width="27" height="18"/><rect class="i" x="883" y="500" width="112" height="18"/><rect class="i" x="1001" y="500" width="229" height="18"/><rect class="i" x="1245" y="500" width="75" height="18"/><rect class="i" x="1332" y="500" width="88" height="18"/>
<text class="l" x="824" y="588">Ordersumma:</text><text class="l" x="961" y="588">0.00</text><text class="l" x="1012" y="588">Moms:</text><text class="l" x="1102" y="588">0.00</text><text class="l" x="1161" y="588">Totalt:</text><text class="l" x="1224" y="588">0.00</text><text class="l" x="1276" y="588">SEK</text>
<rect class="s" x="824" y="596" width="73" height="21"/><text class="l" x="832" y="611">SystemQ</text><rect class="s" x="903" y="596" width="207" height="21"/><text class="l" x="909" y="611">000011</text><rect class="s" x="1116" y="596" width="207" height="21"/><rect class="s" x="1329" y="596" width="218" height="21"/>
</g><text class="big" x="1222.3" y="660">Lev-</text><text class="big" x="1219.6" y="710.7">faktura</text></g>

<g id="lev-reskontra" class="nd"><g transform="translate(1340,550) scale(.33333)" font-size="13">
<rect class="fr" x="85" y="27" width="797" height="590"/><rect class="bg" x="88" y="33" width="791" height="581"/><rect class="tb" x="85" y="27" width="797" height="28"/><use href="#ic" x="90" y="34"/><text class="t" x="108" y="47">Leverantörsfaktura registrering:DEMO AB: SystemQ</text><use href="#c" x="812" y="33"/>
<rect class="mb" x="88" y="55" width="791" height="25"/>
<text class="m" x="93" y="72">Arkiv</text><text class="m" x="136" y="72">SystemQ</text><text class="m" x="203" y="72">Leverantörsreskontra</text><text class="m" x="351" y="72">Sökrutiner</text><text class="m" x="427" y="72">Verktyg</text><text class="m" x="487" y="72">Hjälp</text>
<rect class="btn" x="775" y="80" width="95" height="19"/><use href="#gr" x="798" y="83"/><text class="b" x="835" y="94">Avbryt</text>
<rect class="q" x="97" y="100" width="773" height="24"/><rect class="act" x="100" y="103" width="83" height="21"/><text class="b" x="141" y="118">Registrera</text><rect class="tab" x="187" y="103" width="71" height="21"/><text class="b" x="222" y="118">Attestera</text>
<rect x="97" y="128" width="773" height="462" fill="#c6c6c6" stroke="#75879a" stroke-width="3.5"/>
<text class="l" x="105" y="143">Inkomanstalv nr:</text><rect class="i" x="248" y="131" width="104" height="17"/><text class="l" x="460" y="143">Bestnr:</text><rect class="i" x="510" y="131" width="102" height="17"/><rect class="btn" x="658" y="131" width="97" height="18"/><use href="#pg" x="692" y="132"/><text class="b" x="718" y="145">Ny</text>
<text class="l" x="115" y="163">Nr:</text><rect class="i" x="145" y="151" width="47" height="18"/><text class="l" x="207" y="163">Namn:</text><rect class="i" x="248" y="151" width="237" height="18"/><rect class="off" x="762" y="151" width="96" height="19"/><text class="d" x="815" y="165">Spara</text>
<text class="l" x="105" y="204">Lev.faktnr:</text><rect class="i" x="248" y="192" width="190" height="18"/><text class="l" x="460" y="204">Valuta:</text><rect class="i" x="510" y="192" width="30" height="18"/><text class="l" x="570" y="204">Kurs:</text><rect class="i" x="603" y="192" width="97" height="18"/>
<rect class="q" x="100" y="212" width="758" height="23"/>
<rect class="act" x="110" y="214" width="55" height="21"/><text class="b" x="137" y="229">Huvud</text><rect class="tab" x="170" y="214" width="80" height="21"/><text class="b" x="210" y="229">Registrera</text><rect class="tab" x="255" y="214" width="90" height="21"/><text class="b" x="300" y="229">Betalningar</text><rect class="tab" x="350" y="214" width="55" height="21"/><text class="b" x="377" y="229">Övrigt</text><rect class="tab" x="410" y="214" width="122" height="21"/><text class="b" x="471" y="229">Utlandsbetalning</text>
<rect x="107" y="238" width="750" height="297" fill="#bcbcbc" stroke="#75879a" stroke-width="3.5"/>
<text class="l" x="115" y="253">Projekt:</text><rect class="i" x="250" y="242" width="64" height="18"/><text class="l" x="115" y="273">Fakturadress:</text><rect class="p" x="250" y="262" width="215" height="80"/><rect class="p" x="605" y="242" width="118" height="40"/>
<text class="l" x="501" y="253">Betald:</text><text class="l" x="501" y="273">Rest:</text><text class="l" x="501" y="294">Faktura BG:</text><rect class="i" x="605" y="283" width="128" height="17"/><text class="l" x="501" y="314">Faktura PG:</text><rect class="i" x="605" y="303" width="128" height="17"/><text class="l" x="501" y="335">Betalsätt</text><rect class="y" x="605" y="323" width="110" height="19"/><rect class="y" x="717" y="323" width="18" height="19"/><text class="v" x="608" y="337">Ej angivet</text>
<text class="l" x="115" y="356">Vår referens:</text><rect class="i" x="250" y="344" width="142" height="18"/><text class="l" x="115" y="376">Er referens:</text><rect class="i" x="250" y="365" width="135" height="17"/><text class="l" x="115" y="397">Leveransdatum</text><rect class="i" x="250" y="385" width="48" height="17"/><text class="l" x="115" y="417">Leverans OB:</text><text class="l" x="115" y="438">Attesteras av:</text><rect class="y" x="250" y="427" width="300" height="18"/><rect class="y" x="552" y="427" width="16" height="18"/><text class="l" x="115" y="458">Attesterat datum:</text><text class="l" x="115" y="479">Attestkod:</text><rect class="y" x="250" y="468" width="180" height="19"/><rect class="y" x="432" y="468" width="18" height="19"/><text class="v" x="253" y="481">Ej attesterad</text><text class="l" x="115" y="500">Attest notering:</text><rect class="i" x="250" y="488" width="507" height="18"/><text class="l" x="115" y="521">Dokument ID:</text><rect class="i" x="250" y="509" width="507" height="18"/>
<rect class="p" x="105" y="540" width="755" height="48"/><text class="l" x="113" y="555">IMPkontering</text><text class="l" x="293" y="555">Moms:</text><text class="l" x="460" y="555">Avkorg.summa</text><rect class="q" x="113" y="560" width="152" height="22"/><rect class="q" x="295" y="560" width="135" height="22"/><rect class="q" x="460" y="560" width="120" height="22"/>
<rect class="s" x="95" y="594" width="75" height="20"/><text class="l" x="103" y="609">SystemQ</text><rect class="s" x="175" y="594" width="225" height="20"/><rect class="s" x="410" y="594" width="225" height="20"/><rect class="s" x="640" y="594" width="232" height="20"/>
</g><text class="big" x="1498.3" y="651.7">Lev-</text><text class="big" x="1498.7" y="702.7">reskontra</text></g>

<g id="connectors">
<g transform="translate(230,220) scale(.33333)"><path class="ar" d="M62 96H230V55L283 136 230 215V176H62Z"/><path class="ar" d="M418 323H499V626H540L459 725 380 626H418Z"/><path class="ar" d="M768 785H940V740L995 830 940 925V877H768Z"/></g>
<g transform="translate(810,215) scale(.33333)"><path class="ar" d="M88 258H168V92H210L127 34 45 92H88Z"/></g>
<g transform="translate(1005,445) scale(.33333)"><path class="ar" d="M78 32H160V207H203L120 267 37 207H78Z"/></g>
<g transform="translate(1315,470) scale(.33333)"><path class="ar" d="M33 82H205V35L262 127 205 222V177H33Z"/></g>
<path d="M1247 197L1248.5 232M1247 197L1512 242" fill="none" stroke="#000" stroke-width="2.6"/>
<path d="M1236.5 230H1262L1250 256Z" fill="#000"/>
<path d="M1513 230L1507.3 255L1537.8 245Z" fill="#000"/>
</g>
</svg>
